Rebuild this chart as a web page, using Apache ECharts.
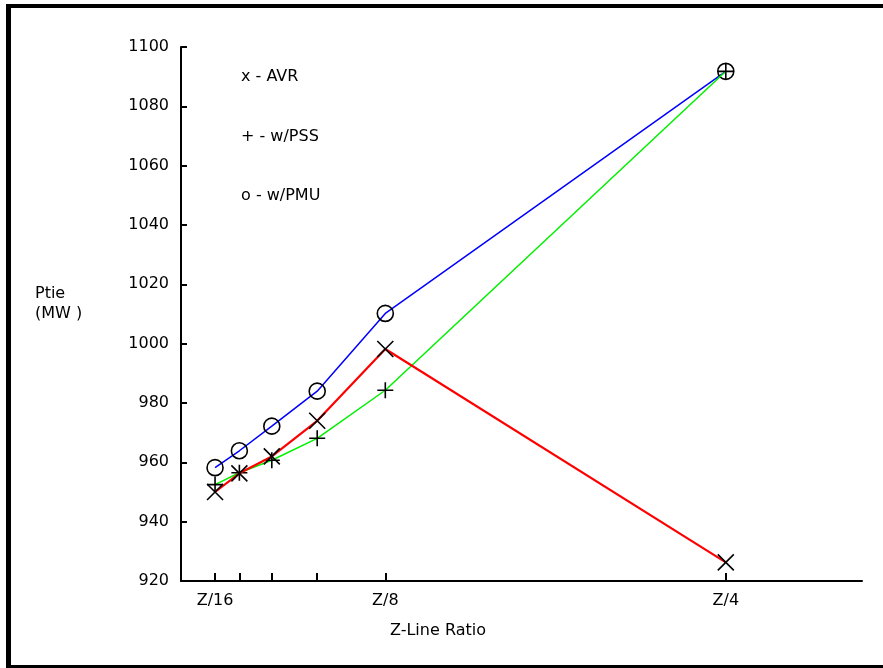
<!DOCTYPE html>
<html><head><meta charset="utf-8">
<script src="https://cdn.jsdelivr.net/npm/echarts@6/dist/echarts.min.js"></script>
<style>html,body{margin:0;padding:0;background:#fff}#c{width:883px;height:668px}</style>
</head><body><div id="c"></div>
<script>
// Z ratios: Z/16, Z/14, Z/12, Z/10, Z/8, Z/4
const xValues = [1/16, 1/14, 1/12, 1/10, 1/8, 1/4];
const xTickValues = [1/16, 1/14, 1/12, 1/10, 1/8, 1/4];
const xLabelValues = [1/16, 1/8, 1/4];
const xLabelTexts = ["Z/16", "Z/8", "Z/4"];
const avr = [950, 956.3, 962, 974, 998.2, 926.3];
const pss = [952.5, 956.5, 960.7, 968.1, 984.3, 1091.8];
const pmu = [958.2, 963.9, 972.2, 984, 1010.2, 1091.8];
const legendTexts = ["x - AVR", "+ - w/PSS", "o - w/PMU"];

const FONT = 'DejaVu Sans, sans-serif';
const chart = echarts.init(document.getElementById('c'));
function pairs(v){ return xValues.map((x,i)=>[x, v[i]]); }
const xSym = 'path://M0,0L10,10M10,0L0,10';
const pSym = 'path://M5,0L5,10M0,5L10,5';
const oSym = 'path://M10,5A5,5,0,1,1,0,5A5,5,0,1,1,10,5Z';
function series(name, data, color, sym, width, z){
  return {
    name, type:'line', data: pairs(data), symbol: sym, symbolSize: 16,
    showAllSymbol: true,
    lineStyle:{color, width},
    itemStyle:{color:'rgba(0,0,0,0)', borderColor:'#000', borderWidth:1.6},
    emphasis:{disabled:true}, z, animation:false
  };
}
chart.setOption({
  animation:false,
  backgroundColor:'#fff',
  grid:{left:181, right:21, top:47, bottom:87, containLabel:false},
  xAxis:{
    type:'value', min:0.05, max:0.3,
    axisLine:{lineStyle:{color:'#000', width:2}},
    axisTick:{show:true, inside:true, length:8, customValues:xTickValues, lineStyle:{color:'#000', width:2}},
    axisLabel:{show:true, customValues:xLabelValues, color:'#000', fontSize:16, fontFamily:FONT, margin:12,
      formatter:v=>{ const i = xLabelValues.findIndex(x=>Math.abs(x-v)<1e-9); return i>=0 ? xLabelTexts[i] : ''; }},
    splitLine:{show:false}
  },
  yAxis:{
    type:'value', min:920, max:1100, interval:20,
    axisLine:{show:true, lineStyle:{color:'#000', width:2}},
    axisTick:{show:true, inside:true, length:6, lineStyle:{color:'#000', width:2}},
    axisLabel:{color:'#000', fontSize:16, fontFamily:FONT, margin:12, formatter:v=>String(v)},
    splitLine:{show:false}
  },
  series:[
    series('w/PMU', pmu, '#0000ff', oSym, 1.5, 2),
    series('w/PSS', pss, '#00f000', pSym, 1.5, 3),
    series('AVR', avr, '#ff0000', xSym, 2.2, 4)
  ],
  graphic:[
    {type:'rect', shape:{x:6,y:4,width:5,height:664}, style:{fill:'#000'}},
    {type:'rect', shape:{x:6,y:4,width:877,height:4}, style:{fill:'#000'}},
    {type:'rect', shape:{x:6,y:665,width:877,height:3}, style:{fill:'#000'}},
    {type:'text', left:35, top:286, style:{text:'Ptie', fontSize:16, fontFamily:FONT, fill:'#000'}},
    {type:'text', left:35, top:306, style:{text:'(MW )', fontSize:16, fontFamily:FONT, fill:'#000'}},
    {type:'text', left:390, top:623, style:{text:'Z-Line Ratio', fontSize:16, fontFamily:FONT, fill:'#000'}},
    {type:'text', left:241, top:69, style:{text:legendTexts[0], fontSize:16, fontFamily:FONT, fill:'#000'}},
    {type:'text', left:241, top:129, style:{text:legendTexts[1], fontSize:16, fontFamily:FONT, fill:'#000'}},
    {type:'text', left:241, top:188, style:{text:legendTexts[2], fontSize:16, fontFamily:FONT, fill:'#000'}}
  ]
});
</script></body></html>
